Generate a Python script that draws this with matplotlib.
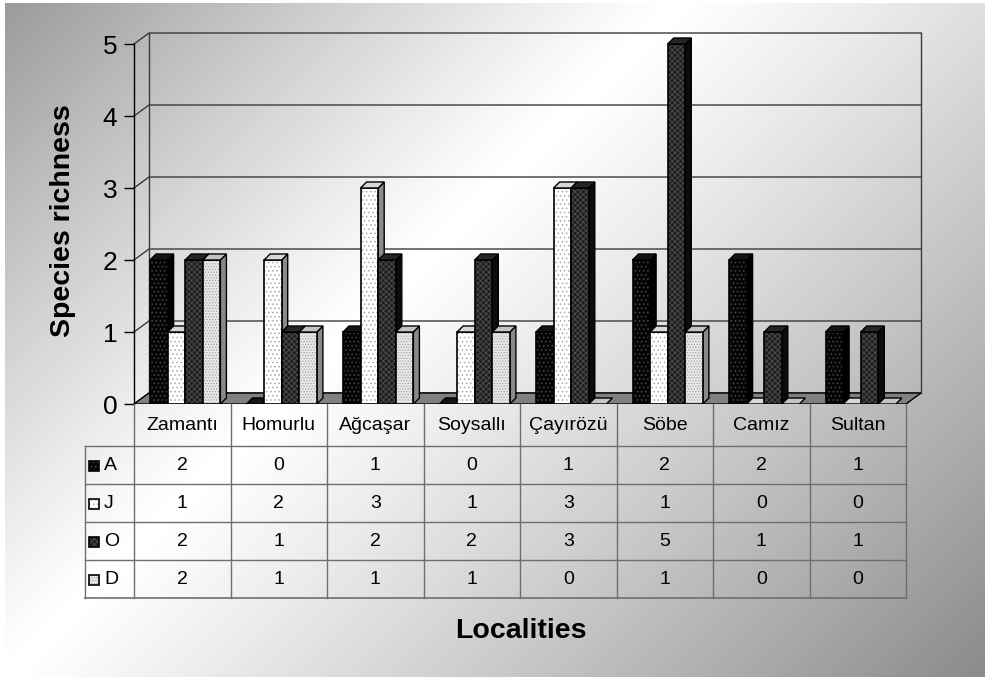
import numpy as np
import matplotlib.pyplot as plt
from matplotlib.patches import Polygon, Rectangle

plt.rcParams['font.family'] = ['Liberation Sans', 'DejaVu Sans']
plt.rcParams['hatch.linewidth'] = 0.6

localities = ['Zamantı', 'Homurlu', 'Ağcaşar', 'Soysallı', 'Çayırözü', 'Söbe', 'Camız', 'Sultan']
series_names = ['A', 'J', 'O', 'D']
A = [2, 0, 1, 0, 1, 2, 2, 1]
J = [1, 2, 3, 1, 3, 1, 0, 0]
O = [2, 1, 2, 2, 3, 5, 1, 1]
D = [2, 1, 1, 1, 0, 1, 0, 0]
series = [A, J, O, D]

# front face, dot pattern, side face, top face
styles = [
    dict(face='#050505', hatch='....', hcol='#4a4a4a', side='#000000', top='#141414'),
    dict(face='#ffffff', hatch='....', hcol='#a8a8a8', side='#8a8a8a', top='#d8d8d8'),
    dict(face='#1e1e1e', hatch='xxxxxx', hcol='#4e4e4e', side='#0c0c0c', top='#262626'),
    dict(face='#e8e8e8', hatch='......', hcol='#a4a4a4', side='#8a8a8a', top='#c4c4c4'),
]

W, H = 985, 677
fig = plt.figure(figsize=(W / 100, H / 100), dpi=100)
fig.patch.set_facecolor('white')

# diagonal grey-white-grey backdrop
yy, xx = np.mgrid[0:H, 0:W]
s = (xx + yy).astype(float)
s0 = 680.0
v = np.where(s < s0, 1 - 0.40 * ((s0 - s) / s0) ** 1.1, 1 - 0.46 * ((s - s0) / (W + H - s0)) ** 1.1)
v[:3, :] = 1.0
v[:, :5] = 1.0
bg = fig.add_axes([0, 0, 1, 1], zorder=-10)
bg.imshow(v, cmap='gray', vmin=0, vmax=1, aspect='auto', interpolation='bilinear')
bg.axis('off')

# plot area in pixels: front x 134..906, back wall up to 921; y=0 at 404, top at 33
left_px, right_px, zero_px, top_px = 134, 921, 404, 33
col_px = (906 - 134) / 8
unit_px = 72.0
dxf, dyf = 15 / col_px, 11 / unit_px   # floor / wall depth
dxb, dyb = 6 / col_px, 6 / unit_px     # bar depth
bw = 17.6 / col_px
boff = 16 / col_px

ax = fig.add_axes([left_px / W, (H - zero_px) / H, (right_px - left_px) / W, (zero_px - top_px) / H])
ax.set_facecolor('none')
ax.set_xlim(-0.5, 7.5 + dxf)
ax.set_ylim(0, 5 + dyf)
for sp in ['top', 'right', 'bottom']:
    ax.spines[sp].set_visible(False)
ax.spines['left'].set_bounds(0, 5)
ax.spines['left'].set_linewidth(1.0)
ax.set_xticks([])
ax.set_yticks(range(6))
ax.tick_params(axis='y', direction='out', length=7, width=1, pad=5, labelsize=19)

n = len(localities)
# walls and gridlines
for g in range(6):
    ax.plot([-0.5, -0.5 + dxf, n - 0.5 + dxf], [g, g + dyf, g + dyf],
            color='#3a3a3a', lw=1, clip_on=False, zorder=1)
ax.plot([-0.5 + dxf] * 2, [dyf, 5 + dyf], color='#3a3a3a', lw=1, clip_on=False, zorder=1)
ax.plot([n - 0.5 + dxf] * 2, [dyf, 5 + dyf], color='#3a3a3a', lw=1, clip_on=False, zorder=1)
ax.add_patch(Polygon([(-0.5, 0), (n - 0.5, 0), (n - 0.5 + dxf, dyf), (-0.5 + dxf, dyf)],
                     closed=True, facecolor='#808080', edgecolor='black', lw=1, zorder=2))

# bars
for i in range(n):
    for j, vals in enumerate(series):
        st = styles[j]
        val = vals[i]
        x0 = i - 0.5 + boff + j * bw
        z = 3 + j
        top = [(x0, val), (x0 + bw, val), (x0 + bw + dxb, val + dyb), (x0 + dxb, val + dyb)]
        if val > 0:
            side = [(x0 + bw, 0), (x0 + bw + dxb, dyb), (x0 + bw + dxb, val + dyb), (x0 + bw, val)]
            ax.add_patch(Polygon(side, closed=True, facecolor=st['side'], edgecolor='black', lw=1, zorder=z))
            ax.bar(x0, val, width=bw, align='edge', color=st['face'], hatch=st['hatch'],
                   edgecolor=st['hcol'], lw=0, zorder=z)
            ax.bar(x0, val, width=bw, align='edge', fill=False, edgecolor='black', lw=1.2, zorder=z)
        ax.add_patch(Polygon(top, closed=True, facecolor=st['top'], edgecolor='black', lw=1, zorder=z))

# data table under the chart, sharing the x scale
row_edges = [0, 42, 80, 118, 156, 194]
tab = fig.add_axes([left_px / W, (H - 598) / H, (right_px - left_px) / W, 194 / H])
tab.set_xlim(ax.get_xlim())
tab.set_ylim(194, 0)
tab.axis('off')
px = 1 / col_px
lab_left = -0.5 - 49 * px
lc = '#6e6e6e'
for k in range(n + 1):
    tab.plot([k - 0.5, k - 0.5], [0, 194], color=lc, lw=1, clip_on=False)
tab.plot([lab_left, lab_left], [42, 194], color=lc, lw=1, clip_on=False)
for r in row_edges[1:]:
    tab.plot([lab_left, n - 0.5], [r, r], color=lc, lw=1.2 if r == 194 else 1, clip_on=False)
for i, name in enumerate(localities):
    tab.text(i, 21, name, ha='center', va='center', fontsize=14)
for j, (sn, vals) in enumerate(zip(series_names, series)):
    yc = (row_edges[j + 1] + row_edges[j + 2]) / 2
    st = styles[j]
    kx = lab_left + 4 * px
    tab.add_patch(Rectangle((kx, yc - 4.5), 10 * px, 10, facecolor=st['face'], hatch=st['hatch'],
                            edgecolor=st['hcol'], lw=0, clip_on=False))
    tab.add_patch(Rectangle((kx, yc - 4.5), 10 * px, 10, fill=False, edgecolor='black', lw=1.2, clip_on=False))
    tab.text(kx + 15 * px, yc, sn, ha='left', va='center', fontsize=14)
    for i, val in enumerate(vals):
        tab.text(i, yc, str(val), ha='center', va='center', fontsize=14)

fig.text(63 / W, (H - 221) / H, 'Species richness', rotation=90, ha='center', va='center',
         fontsize=20.5, fontweight='bold')
fig.text(521 / W, (H - 631) / H, 'Localities', ha='center', va='center',
         fontsize=20.5, fontweight='bold')

fig.savefig('out.png', dpi=100)
